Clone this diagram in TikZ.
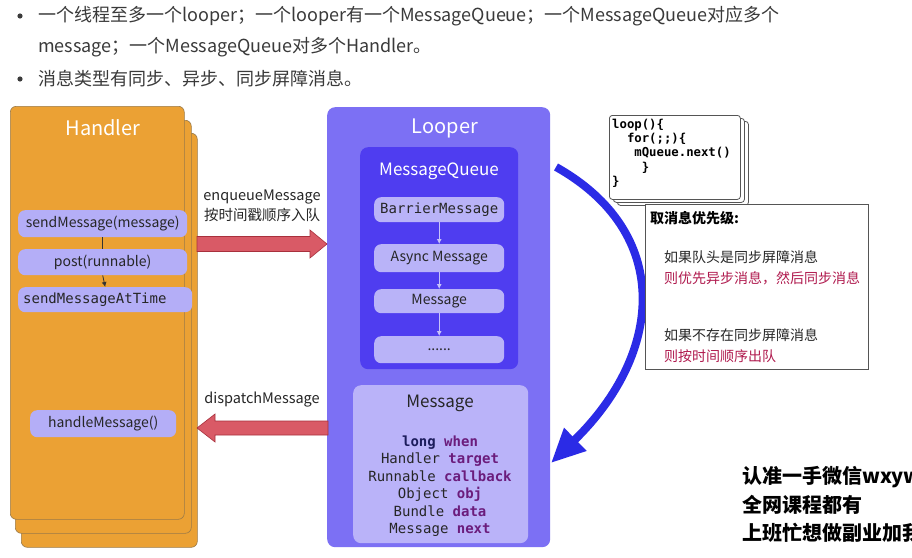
\documentclass[tikz,border=0pt]{standalone}
\usepackage{fontspec}
\setmainfont{Noto Sans CJK SC}
\setmonofont{DejaVu Sans Mono}
\usetikzlibrary{arrows.meta}
\definecolor{textgrey}{HTML}{3A3A3A}
\definecolor{handlerfill}{HTML}{EBA134}
\definecolor{cardborder}{HTML}{9A7A48}
\definecolor{pillfill}{HTML}{B4AEF7}
\definecolor{looperfill}{HTML}{7C70F4}
\definecolor{mqfill}{HTML}{4F3DF0}
\definecolor{mqitem}{HTML}{B9B3F8}
\definecolor{msgfill}{HTML}{BAB3F9}
\definecolor{redfill}{HTML}{D95A66}
\definecolor{redborder}{HTML}{A8303C}
\definecolor{bluecurve}{HTML}{2B2BE6}
\definecolor{typecol}{HTML}{1C1C5C}
\definecolor{namecol}{HTML}{6B1C7C}
\definecolor{prired}{HTML}{B01A4E}
\definecolor{boxborder}{HTML}{555555}
\newcommand{\fsz}[1]{\fontsize{#1}{#1}\selectfont}
\tikzset{
  card/.style={draw=cardborder, fill=handlerfill, rounded corners=6pt, anchor=north west, inner sep=0pt, line width=0.6pt},
  pill/.style={fill=pillfill, rounded corners=7pt, anchor=north west, inner sep=0pt, minimum width=169pt, font=\fsz{14}, text=black!85},
  qitem/.style={fill=mqitem, rounded corners=7pt, anchor=north west, inner sep=0pt, minimum width=130pt, font=\fsz{14}, text=black!85},
  qarrow/.style={draw=mqitem!80!white, line width=0.8pt, -{Latex[length=5pt,width=5pt]}},
  blockarrow/.style={draw=redborder, fill=redfill, line width=0.6pt, line join=miter},
  codecard/.style={draw=boxborder, fill=white, rounded corners=3pt, anchor=north west, inner sep=0pt, line width=0.8pt, minimum width=131pt, minimum height=84pt},
  lbl/.style={font=\fsz{14.5}, text=black!85},
  bul/.style={anchor=west, inner sep=0pt, font=\fsz{18}, text=textgrey},
  wm/.style={font=\fsz{20}\bfseries, text=black, anchor=west, inner sep=0pt}
}
\begin{document}
\begin{tikzpicture}[x=1pt, y=-1pt]
\clip (0,0) rectangle (912,557);
\fill[white] (0,0) rectangle (912,557);

% bullets
\fill[textgrey] (20,16) circle (2.6pt);
\fill[textgrey] (20,79) circle (2.6pt);
\node[bul] (b1) at (38,16) {一个线程至多一个looper；一个looper有一个MessageQueue；一个MessageQueue对应多个};
\node[bul] (b1b) at (38,47.5) {message；一个MessageQueue对多个Handler。};
\node[bul] (b2) at (38,79) {消息类型有同步、异步、同步屏障消息。};

% Handler stack
\node[card, minimum width=176pt, minimum height=414pt] (h3) at (21,133) {};
\node[card, minimum width=176pt, minimum height=413pt] (h2) at (15,120) {};
\node[card, minimum width=174pt, minimum height=413pt] (h1) at (10,106) {};
\node[text=white, font=\fsz{20}] (htitle) at (103,128) {Handler};
\node[pill, minimum height=27pt] (send) at (18,210) {sendMessage(message)};
\node[pill, minimum height=26pt] (post) at (18,249) {post(runnable)};
\node[pill, minimum height=25pt, minimum width=0pt, text width=164pt, inner xsep=5pt, align=left, font=\fsz{14}\ttfamily] (smat) at (18,287) {sendMessageAtTime};
\node[pill, minimum height=27pt, minimum width=146pt] (handle) at (30,410) {handleMessage()};
\draw[black!80, line width=0.8pt] (send.south) -- (post.north);
\draw[black!80, line width=0.8pt, -{Latex[length=5pt,width=5pt]}] (post.south) -- (smat.north);

% Looper
\node[fill=looperfill, rounded corners=8pt, anchor=north west, inner sep=0pt, minimum width=223pt, minimum height=440pt] (looper) at (327,107) {};
\node[text=white, font=\fsz{20}] (ltitle) at (445,128) {Looper};
\node[fill=mqfill, rounded corners=8pt, anchor=north west, inner sep=0pt, minimum width=158pt, minimum height=222pt] (mq) at (360,147) {};
\node[text=white, font=\fsz{17}] (mqtitle) at (439,171) {MessageQueue};
\node[qitem, minimum height=25pt, font=\fsz{14}\ttfamily] (barrier) at (374,197) {BarrierMessage};
\node[qitem, minimum height=28pt] (async) at (374,244) {Async Message};
\node[qitem, minimum height=24pt] (msg) at (374,289) {Message};
\node[qitem, minimum height=27pt] (dots) at (374,336) {......};
\draw[qarrow] (barrier.south) -- (async.north);
\draw[qarrow] (async.south) -- (msg.north);
\draw[qarrow] (msg.south) -- (dots.north);

% Message box
\node[fill=msgfill, rounded corners=8pt, anchor=north west, inner sep=0pt, minimum width=175pt, minimum height=158pt] (mbox) at (353,385) {};
\node[font=\fsz{17}, text=black!85] (mtitle) at (440,403) {Message};
\node[align=center, inner sep=0pt, font=\fontsize{14}{17.5}\selectfont\ttfamily] (fields) at (440,486) {%
\textcolor{typecol}{\bfseries long} \textcolor{namecol}{\bfseries when}\\
\textcolor{black!85}{Handler} \textcolor{namecol}{\bfseries target}\\
\textcolor{black!85}{Runnable} \textcolor{namecol}{\bfseries callback}\\
\textcolor{black!85}{Object} \textcolor{namecol}{\bfseries obj}\\
\textcolor{black!85}{Bundle} \textcolor{namecol}{\bfseries data}\\
\textcolor{black!85}{Message} \textcolor{namecol}{\bfseries next}};

% red block arrows
\draw[blockarrow] (197,236.5) -- (310,236.5) -- (310,230) -- (327,244) -- (310,258) -- (310,251.5) -- (197,251.5) -- cycle;
\draw[blockarrow] (328,421) -- (215,421) -- (215,414) -- (197,428) -- (215,442) -- (215,435) -- (328,435) -- cycle;
\node[lbl] (enqlbl1) at (262,197) {enqueueMessage};
\node[lbl] (enqlbl2) at (262,215) {按时间戳顺序入队};
\node[lbl] (displbl) at (262,400) {dispatchMessage};

% blue loop curve
\coordinate (cs) at (556,167);
\coordinate (ce) at (551,463);
\draw[line width=8pt, bluecurve, -{Triangle[length=34pt,width=30pt]}] (cs) .. controls (672,232) and (665,352) .. (ce);

% code cards
\node[codecard] (code3) at (617,121) {};
\node[codecard] (code2) at (613,118) {};
\node[codecard] (code1) at (609,115) {};
\node[anchor=north west, inner sep=0pt, align=left, font=\fontsize{12.3}{14.2}\selectfont\ttfamily\bfseries] (codetext) at (612,119) {%
loop()\{\\
\ \ for(;;)\{\\
\ \ \ mQueue.next()\\
\ \ \ \ \}\\
\}};

% priority box
\node[draw=boxborder, fill=white, line width=0.8pt, anchor=north west, inner sep=0pt, minimum width=223pt, minimum height=165pt] (prio) at (645,204) {};
\node[anchor=west, inner sep=0pt, font=\fsz{14}\bfseries, text=black] (ptitle) at (650,218) {取消息优先级:};
\node[anchor=west, inner sep=0pt, font=\fsz{14}, text=black!85] (p1) at (664,257) {如果队头是同步屏障消息};
\node[anchor=west, inner sep=0pt, font=\fsz{14}, text=prired] (p2) at (664,278) {则优先异步消息，然后同步消息};
\node[anchor=west, inner sep=0pt, font=\fsz{14}, text=black!85] (p3) at (664,335) {如果不存在同步屏障消息};
\node[anchor=west, inner sep=0pt, font=\fsz{14}, text=prired] (p4) at (664,356) {则按时间顺序出队};

% watermark
\node[wm] (w1) at (742,477) {认准一手微信wxyw};
\node[wm] (w2) at (742,505) {全网课程都有};
\node[wm] (w3) at (742,533) {上班忙想做副业加我};
\end{tikzpicture}
\end{document}
